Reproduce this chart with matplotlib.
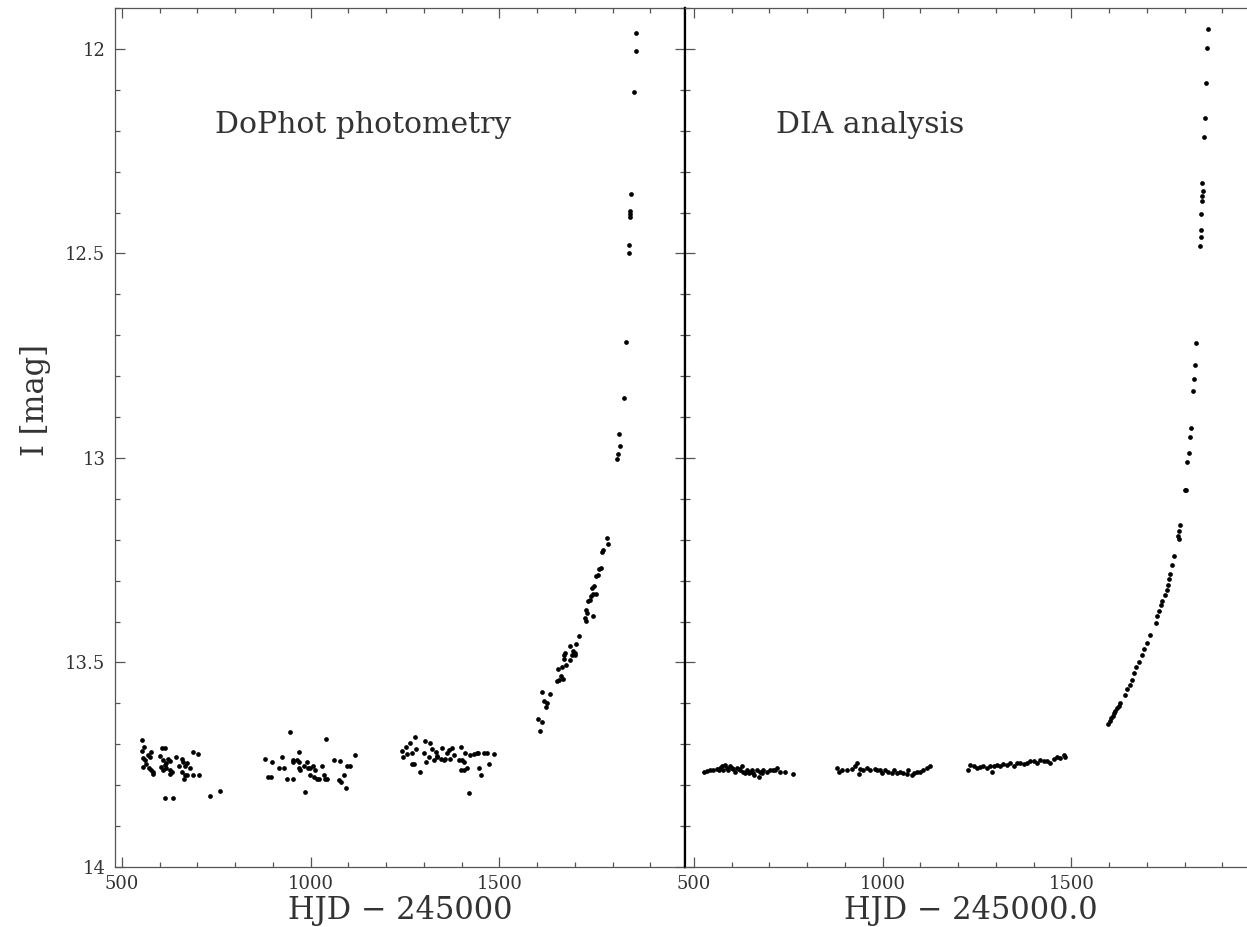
import numpy as np
import matplotlib
matplotlib.use('Agg')
import matplotlib.pyplot as plt
from matplotlib.ticker import MultipleLocator, FuncFormatter

plt.rcParams['font.family'] = ['DejaVu Serif']
plt.rcParams['axes.linewidth'] = 0.9

# DoPhot light curve (HJD - 2450000, I mag)
dophot_t = [554, 552, 559, 576, 555, 561, 570, 574, 565, 557, 572, 577, 583, 581,
            605, 614, 601, 610, 618, 623, 627, 614, 618, 627, 632, 627, 610, 603,
            643, 658, 663, 652, 667, 673, 679, 658, 667, 664, 673, 687, 705, 687,
            701, 614, 634, 732, 760,
            879, 897, 888, 894, 924, 916, 928, 944, 953, 954, 963, 968, 937, 953,
            968, 972, 970, 981, 985, 990, 994, 999, 1006, 997, 1008, 1012, 1016,
            1023, 1030, 1034, 1038, 1041, 1043, 1061, 1074, 1078, 1080, 1089, 1094,
            1096, 1103, 1118,
            1242, 1244, 1253, 1255, 1264, 1268, 1277, 1280, 1268, 1273, 1290, 1304,
            1301, 1306, 1317, 1313, 1321, 1326, 1333, 1336, 1344, 1348, 1352, 1361,
            1366, 1370, 1374, 1379, 1392, 1397, 1401, 1405, 1410, 1397, 1405, 1414,
            1419, 1421, 1441, 1445, 1450, 1458, 1467, 1472, 1485, 1432, 1443, 1335,
            1357,
            1601, 1614, 1608, 1612, 1633, 1619, 1626, 1623, 1654, 1663, 1668, 1659,
            1653, 1675, 1671, 1672, 1677, 1665, 1688, 1688, 1695, 1699, 1693, 1701,
            1704, 1710, 1730, 1733, 1726, 1730, 1749, 1735, 1739, 1744, 1748, 1757,
            1751, 1746, 1755, 1761, 1764, 1768, 1773, 1775, 1786, 1788, 1811, 1813,
            1820, 1817, 1829, 1835,
            1843, 1844, 1846, 1846, 1846, 1849, 1856, 1861, 1863]
dophot_mag = [13.689, 13.716, 13.706, 13.718, 13.734, 13.739, 13.726, 13.732, 13.747,
              13.755, 13.757, 13.763, 13.767, 13.773, 13.710, 13.710, 13.729, 13.739,
              13.745, 13.735, 13.740, 13.751, 13.757, 13.763, 13.767, 13.773, 13.763,
              13.755, 13.732, 13.735, 13.743, 13.753, 13.753, 13.745, 13.757, 13.767,
              13.776, 13.786, 13.776, 13.776, 13.776, 13.718, 13.724, 13.831, 13.831,
              13.826, 13.814,
              13.736, 13.743, 13.780, 13.781, 13.732, 13.757, 13.759, 13.671, 13.743,
              13.739, 13.739, 13.718, 13.786, 13.786, 13.759, 13.763, 13.743, 13.753,
              13.817, 13.743, 13.757, 13.759, 13.753, 13.776, 13.780, 13.763, 13.786,
              13.786, 13.753, 13.776, 13.784, 13.688, 13.786, 13.739, 13.788, 13.740,
              13.792, 13.776, 13.806, 13.753, 13.753, 13.726,
              13.716, 13.730, 13.706, 13.724, 13.698, 13.722, 13.681, 13.712, 13.747,
              13.749, 13.767, 13.693, 13.721, 13.743, 13.698, 13.732, 13.712, 13.739,
              13.718, 13.729, 13.735, 13.710, 13.739, 13.722, 13.714, 13.737, 13.710,
              13.726, 13.739, 13.706, 13.739, 13.743, 13.721, 13.763, 13.762, 13.759,
              13.819, 13.726, 13.721, 13.759, 13.774, 13.721, 13.721, 13.747, 13.724,
              13.724, 13.721, 13.730, 13.735,
              13.637, 13.646, 13.667, 13.573, 13.577, 13.594, 13.599, 13.609, 13.516,
              13.533, 13.541, 13.543, 13.546, 13.477, 13.482, 13.491, 13.505, 13.510,
              13.494, 13.460, 13.472, 13.477, 13.482, 13.482, 13.454, 13.435, 13.372,
              13.379, 13.391, 13.398, 13.387, 13.350, 13.348, 13.338, 13.332, 13.332,
              13.313, 13.317, 13.289, 13.287, 13.272, 13.269, 13.231, 13.224, 13.196,
              13.211, 13.002, 12.991, 12.972, 12.942, 12.853, 12.717,
              12.480, 12.498, 12.396, 12.404, 12.411, 12.354, 12.105, 12.004, 11.960]

# DIA light curve
dia_t = [527, 534, 542, 551, 560, 565, 569, 573, 578, 582, 587, 591, 595, 600, 604,
         609, 613, 618, 622, 626, 631, 635, 640, 645, 649, 653, 657, 659, 666, 671,
         675, 680, 684, 693, 702, 710, 715, 719, 728, 741, 762,
         878, 883, 892, 905, 918, 927, 931, 936, 940, 949, 958, 967, 980, 985, 993,
         998, 1007, 1015, 1024, 1029, 1038, 1046, 1055, 1064, 1068, 1077, 1082, 1091,
         1100, 1108, 1117, 1126,
         1225, 1232, 1241, 1250, 1259, 1267, 1276, 1285, 1290, 1294, 1303, 1312, 1320,
         1329, 1338, 1347, 1356, 1365, 1374, 1382, 1391, 1400, 1409, 1418, 1427, 1435,
         1444, 1453, 1462, 1471, 1480, 1484,
         1598, 1601, 1605, 1609, 1612, 1616, 1621, 1625, 1630, 1643, 1648, 1654, 1661,
         1665, 1672, 1679, 1687, 1692, 1699, 1708, 1723, 1727, 1732, 1738, 1741, 1747,
         1752, 1756, 1758, 1761, 1767, 1771, 1783, 1784, 1785, 1787, 1801, 1803, 1807,
         1811, 1814, 1816, 1823, 1826, 1827, 1830, 1842, 1843, 1844, 1844, 1845, 1846,
         1848, 1847, 1851, 1853, 1856, 1858, 1862]
dia_mag = [13.767, 13.765, 13.764, 13.763, 13.761, 13.764, 13.759, 13.754, 13.763,
           13.750, 13.759, 13.763, 13.754, 13.757, 13.761, 13.767, 13.759, 13.761,
           13.763, 13.754, 13.767, 13.771, 13.763, 13.771, 13.767, 13.763, 13.771,
           13.775, 13.763, 13.779, 13.767, 13.769, 13.763, 13.767, 13.764, 13.763,
           13.764, 13.759, 13.767, 13.767, 13.773,
           13.759, 13.767, 13.763, 13.763, 13.761, 13.754, 13.746, 13.772, 13.761,
           13.763, 13.759, 13.763, 13.761, 13.764, 13.763, 13.769, 13.764, 13.767,
           13.769, 13.763, 13.771, 13.767, 13.769, 13.772, 13.764, 13.775, 13.769,
           13.767, 13.767, 13.763, 13.759, 13.754,
           13.763, 13.750, 13.754, 13.759, 13.756, 13.754, 13.759, 13.753, 13.767,
           13.754, 13.750, 13.753, 13.748, 13.750, 13.746, 13.753, 13.745, 13.746,
           13.748, 13.745, 13.742, 13.740, 13.745, 13.738, 13.742, 13.740, 13.745,
           13.736, 13.731, 13.733, 13.726, 13.730,
           13.650, 13.643, 13.636, 13.630, 13.624, 13.618, 13.612, 13.606, 13.600,
           13.579, 13.566, 13.556, 13.542, 13.526, 13.512, 13.498, 13.481, 13.466,
           13.453, 13.432, 13.404, 13.387, 13.375, 13.359, 13.349, 13.334, 13.322,
           13.310, 13.297, 13.283, 13.262, 13.240, 13.191, 13.197, 13.179, 13.163,
           13.079, 13.079, 13.011, 12.989, 12.949, 12.926, 12.836, 12.806, 12.773,
           12.720, 12.482, 12.460, 12.442, 12.403, 12.373, 12.360, 12.348, 12.329,
           12.215, 12.170, 12.083, 11.998, 11.951]

txt = '#333333'
grey = '#555555'

fig = plt.figure(figsize=(12.47, 9.27), dpi=100)
ax1 = fig.add_axes([0.0922, 0.0647, 0.4575, 0.9267])
ax2 = fig.add_axes([0.5497, 0.0647, 0.4575, 0.9267])


def setup(ax, xlo, xhi):
    ax.set_xlim(xlo, xhi)
    ax.set_ylim(14.0, 11.9)
    ax.xaxis.set_major_locator(MultipleLocator(500))
    ax.xaxis.set_minor_locator(MultipleLocator(100))
    ax.yaxis.set_major_locator(MultipleLocator(0.5))
    ax.yaxis.set_minor_locator(MultipleLocator(0.1))
    ax.yaxis.set_major_formatter(FuncFormatter(lambda v, p: '%g' % v))
    ax.tick_params(which='both', direction='in', top=True, right=True,
                   colors=grey, labelcolor=txt, labelsize=13, width=0.9)
    ax.tick_params(which='major', length=7.5)
    ax.tick_params(which='minor', length=3.8)
    ax.tick_params(axis='x', pad=5.5)
    ax.tick_params(axis='y', pad=7)
    for s in ax.spines.values():
        s.set_color(grey)


setup(ax1, 481.5, 1993)
setup(ax2, 477.5, 1989)
ax2.tick_params(which='both', labelleft=False, right=False)

# shared edge between the two panels
ax1.spines['right'].set_color('black')
ax1.spines['right'].set_linewidth(1.6)
ax2.spines['left'].set_color('black')
ax2.spines['left'].set_linewidth(1.6)

ax1.plot(dophot_t, dophot_mag, 'o', color='black', ms=3.4, mew=0)
ax2.plot(dia_t, dia_mag, 'o', color='black', ms=3.4, mew=0)

ax1.text(0.435, 0.864, 'DoPhot photometry', transform=ax1.transAxes,
         fontsize=21.5, color=txt, ha='center', va='center')
ax2.text(0.323, 0.864, 'DIA analysis', transform=ax2.transAxes,
         fontsize=21.5, color=txt, ha='center', va='center')

ax1.set_xlabel('HJD \u2212 245000', fontsize=22, color=txt, va='center')
ax1.xaxis.set_label_coords(0.5, -0.051)
ax2.set_xlabel('HJD \u2212 245000.0', fontsize=22, color=txt, va='center')
ax2.xaxis.set_label_coords(0.5, -0.051)
ax1.set_ylabel('I [mag]', fontsize=22, color=txt, va='center')
ax1.yaxis.set_label_coords(-0.14, 0.544)

plt.savefig('out.png', dpi=100)
